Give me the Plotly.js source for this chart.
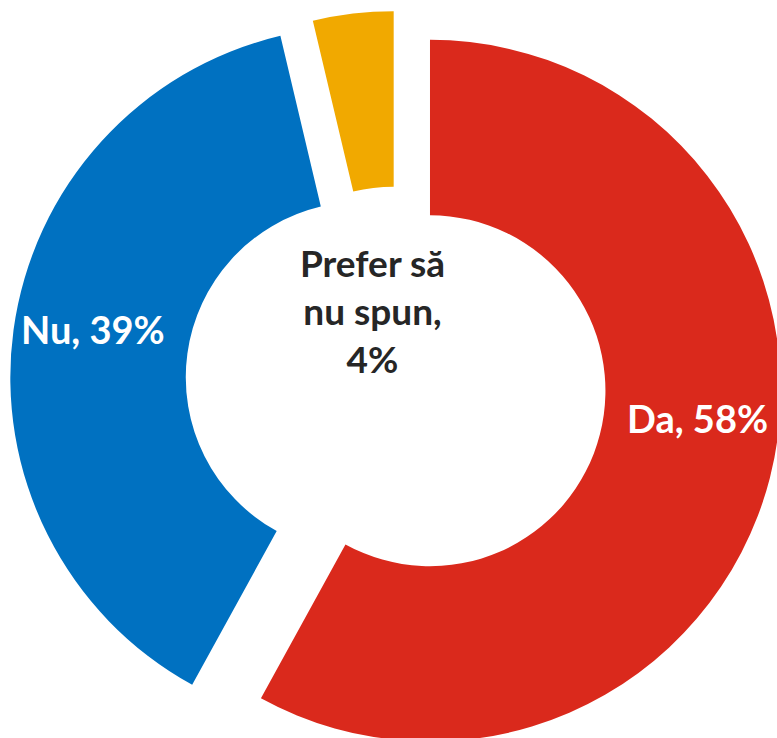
<!DOCTYPE html>
<html>
<head>
<meta charset="utf-8">
<script src="https://cdn.plot.ly/plotly-3.0.1.min.js"></script>
<style>
  html, body { margin: 0; padding: 0; overflow: hidden; background: #ffffff; width: 777px; height: 738px; }
  #chart { position: absolute; left: 10px; top: -4px; width: 772px; height: 772px; }
</style>
</head>
<body>
<div id="chart"></div>
<script>
// Data
var labels = ['Da', 'Nu', 'Prefer să nu spun'];
var values = [58, 38.3, 3.7];
var shownPercent = ['58%', '39%', '4%'];
var colors = ['#DA291C', '#0071C1', '#F1A900'];
var pulls = [0.1, 0.1, 0.057];

var textFont = 'Lato, "Open Sans", sans-serif';

var trace = {
  type: 'pie',
  labels: labels,
  values: values,
  text: shownPercent,
  sort: false,
  direction: 'clockwise',
  rotation: 0,
  hole: 0.5,
  pull: pulls,
  marker: { colors: colors, line: { width: 0 } },
  textinfo: 'none',
  hoverinfo: 'none',
  showlegend: false
};

// label placement (paper coordinates) and styling
var labelPos = [
  { x: 0.890, y: 0.453, color: '#ffffff', size: 38 },
  { x: 0.107, y: 0.569, color: '#ffffff', size: 38 },
  { x: 0.470, y: 0.593, color: '#262626', size: 37 }
];

var annotations = labels.map(function (lab, i) {
  var txt = (i === 2 ? lab.replace('să ', 'să<br>') + ',<br>' : lab + ', ') + shownPercent[i];
  return {
    text: '<b>' + txt + '</b>',
    x: labelPos[i].x, y: labelPos[i].y,
    xref: 'paper', yref: 'paper',
    xanchor: 'center', yanchor: 'middle',
    showarrow: false,
    align: 'center',
    font: { family: textFont, size: labelPos[i].size, color: labelPos[i].color }
  };
});

var layout = {
  width: 772,
  height: 772,
  margin: { l: 0, r: 0, t: 0, b: 0, pad: 0 },
  paper_bgcolor: '#ffffff',
  plot_bgcolor: '#ffffff',
  showlegend: false,
  annotations: annotations
};

Plotly.newPlot('chart', [trace], layout, { displayModeBar: false, staticPlot: true });
</script>
</body>
</html>
